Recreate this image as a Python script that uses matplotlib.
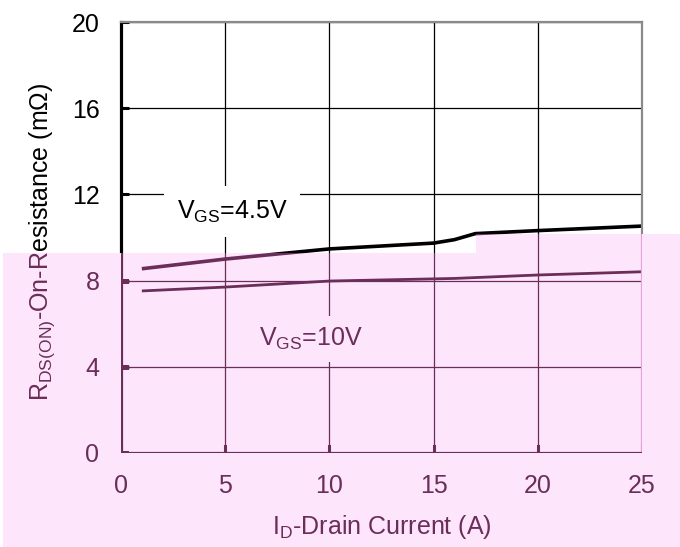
import matplotlib
matplotlib.use("Agg")
import matplotlib.pyplot as plt
from matplotlib.patches import Polygon
from matplotlib.transforms import Bbox, TransformedBbox
from matplotlib.text import Text

plt.rcParams['font.family'] = ['Liberation Sans', 'DejaVu Sans']
plt.rcParams['mathtext.fontset'] = 'custom'
plt.rcParams['mathtext.rm'] = 'Liberation Sans'
plt.rcParams['mathtext.it'] = 'Liberation Sans'
plt.rcParams['mathtext.default'] = 'regular'

# ---- data ----
current = [1, 5, 10, 15, 16, 17, 20, 25]
r_vgs45 = [8.55, 9.0, 9.47, 9.74, 9.9, 10.18, 10.32, 10.53]
r_vgs10 = [7.52, 7.70, 7.98, 8.08, 8.10, 8.14, 8.26, 8.41]
x_ticks = [0, 5, 10, 15, 20, 25]
y_ticks = [0, 4, 8, 12, 16, 20]
xlabel = "I$_D$-Drain Current (A)"
ylabel = "R$_{DS(ON)}$-On-Resistance (m\u03a9)"
label45 = "V$_{GS}$=4.5V"
label10 = "V$_{GS}$=10V"

W, H = 680, 547
PINK = '#fde6fb'
MAROON = '#6b2d59'

fig = plt.figure(figsize=(W / 100, H / 100), dpi=100)
rect = [121 / W, 1 - 453 / H, (642 - 121) / W, (453 - 22) / H]
ax1 = fig.add_axes(rect)
ax2 = fig.add_axes(rect, label='pinklayer')


def build(ax, col, framecol, boxcol, show45, show10):
    ax.plot(current, r_vgs45, color=col, lw=2.6, solid_capstyle='butt', zorder=2)
    ax.plot(current, r_vgs10, color=col, lw=2.0, solid_capstyle='butt', zorder=2)
    ax.set_xlim(0, 25)
    ax.set_ylim(0, 20)
    ax.set_xticks(x_ticks)
    ax.set_yticks(y_ticks)
    ax.grid(True, color=col, lw=0.9, zorder=1)
    ax.set_axisbelow(True)
    for s in ['left', 'bottom']:
        ax.spines[s].set_color(col)
        ax.spines[s].set_linewidth(2.3)
    for s in ['top', 'right']:
        ax.spines[s].set_color(framecol)
        ax.spines[s].set_linewidth(1.6)
    ax.tick_params(direction='in', length=6, width=2.2, color=col,
                   labelcolor=col, labelsize=18)
    ax.tick_params(axis='x', pad=15)
    ax.tick_params(axis='y', pad=15.5)
    ax.set_xlabel(xlabel, fontsize=18, color=col)
    ax.xaxis.set_label_coords(0.5, -0.14)
    ax.set_ylabel(ylabel, fontsize=18, color=col)
    ax.yaxis.set_label_coords(-0.123, 0.49)
    if show45:
        ax.text(5.33, 11.2, label45, fontsize=18, color=col, ha='center', va='center',
                bbox=dict(facecolor=boxcol, edgecolor='none', pad=9), zorder=3)
    if show10:
        ax.text(9.12, 5.28, label10, fontsize=18, color=col, ha='center', va='center',
                bbox=dict(facecolor=boxcol, edgecolor='none', pad=7), zorder=3)


build(ax1, 'black', '#8a8a8a', 'white', True, False)
build(ax2, MAROON, '#e3a3d6', PINK, False, True)
ax2.patch.set_visible(False)

ax1.set_zorder(0)
ax2.set_zorder(2)

pts_px = [(3, 547), (3, 253), (476, 253), (476, 234), (680, 234), (680, 547)]
pts = [(x / W, 1 - y / H) for x, y in pts_px]
pink = Polygon(pts, closed=True, transform=fig.transFigure,
               facecolor=PINK, edgecolor='none', zorder=1)
fig.add_artist(pink)

clip_poly = Polygon(pts, closed=True, transform=fig.transFigure)
band = TransformedBbox(Bbox([[0, 0], [1, 1 - 253 / H]]), fig.transFigure)

fig.canvas.draw()
for a in ax2.findobj():
    if a is ax2 or a is ax2.patch:
        continue
    if isinstance(a, Text):
        a.set_clip_on(True)
        a.set_clip_box(band)
    else:
        a.set_clip_on(True)
        a.set_clip_path(clip_poly)

fig.savefig('out.png', dpi=100)
